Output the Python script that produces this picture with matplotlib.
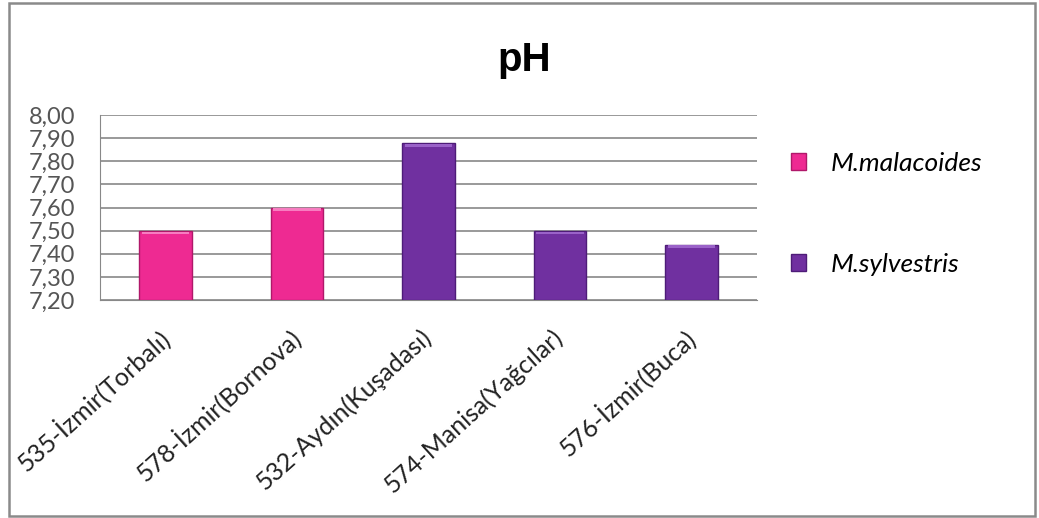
import matplotlib.pyplot as plt
from matplotlib.patches import Rectangle
import numpy as np

# pH per sample site
sites = ["535-İzmir(Torbalı)", "578-İzmir(Bornova)", "532-Aydın(Kuşadası)",
         "574-Manisa(Yağcılar)", "576-İzmir(Buca)"]
species = ["M.malacoides", "M.malacoides", "M.sylvestris", "M.sylvestris", "M.sylvestris"]
ph_values = [7.50, 7.60, 7.88, 7.50, 7.44]
yticks = [7.20, 7.30, 7.40, 7.50, 7.60, 7.70, 7.80, 7.90, 8.00]

colors = {"M.malacoides": "#EE2A92", "M.sylvestris": "#7030A0"}
edges = {"M.malacoides": "#B0186A", "M.sylvestris": "#4E1C78"}
tops = {"M.malacoides": "#F77CC0", "M.sylvestris": "#9A62C8"}

plt.rcParams['font.family'] = ['Lato', 'DejaVu Sans']

fig = plt.figure(figsize=(10.39, 5.18), dpi=100)
ax = fig.add_axes([0.0962, 0.4208, 0.6324, 0.357])

x = np.arange(len(sites))
for sp in ["M.malacoides", "M.sylvestris"]:
    idx = [i for i, s in enumerate(species) if s == sp]
    vals = np.array([ph_values[i] for i in idx])
    ax.bar(x[idx], vals - 7.20, width=0.4, bottom=7.20,
           color=colors[sp], edgecolor=edges[sp], linewidth=1, label=sp, zorder=3)
    # lighter bevel along the top of each bar
    ax.bar(x[idx], 0.012, width=0.36, bottom=vals - 0.016,
           color=tops[sp], linewidth=0, zorder=4)

ax.set_xlim(-0.5, len(sites) - 0.5)
ax.set_ylim(7.20, 8.00)
ax.set_yticks(yticks)
ax.set_yticklabels([f"{v:.2f}".replace(".", ",") for v in yticks],
                   fontsize=17, color="#555555")
ax.set_xticks(x)
ax.set_xticklabels(sites, rotation=42, ha="right", va="center",
                   rotation_mode="anchor", fontsize=18, color="#222222")
ax.tick_params(axis="both", length=0)
ax.tick_params(axis="y", pad=18)
ax.tick_params(axis="x", pad=24)
ax.yaxis.grid(True, color="#888888", linewidth=1.2, zorder=0)
for side in ["top", "right"]:
    ax.spines[side].set_visible(False)
ax.spines["left"].set_color("#888888")
ax.spines["bottom"].set_color("#888888")

fig.text(0.505, 0.884, "pH", ha="center", va="center", fontsize=29,
         fontweight="bold", family="Liberation Sans")

leg = ax.legend(loc="upper left", bbox_to_anchor=(1.015, 0.93), frameon=False,
                prop={"size": 19, "style": "italic"}, handlelength=0.6,
                handleheight=0.6, handletextpad=0.9, labelspacing=2.95)

# chart frame
fig.patches.append(Rectangle((0.009, 0.004), 0.987, 0.99, transform=fig.transFigure,
                             fill=False, edgecolor="#8a8a8a", linewidth=1.8))

fig.savefig("out.png", dpi=100)
